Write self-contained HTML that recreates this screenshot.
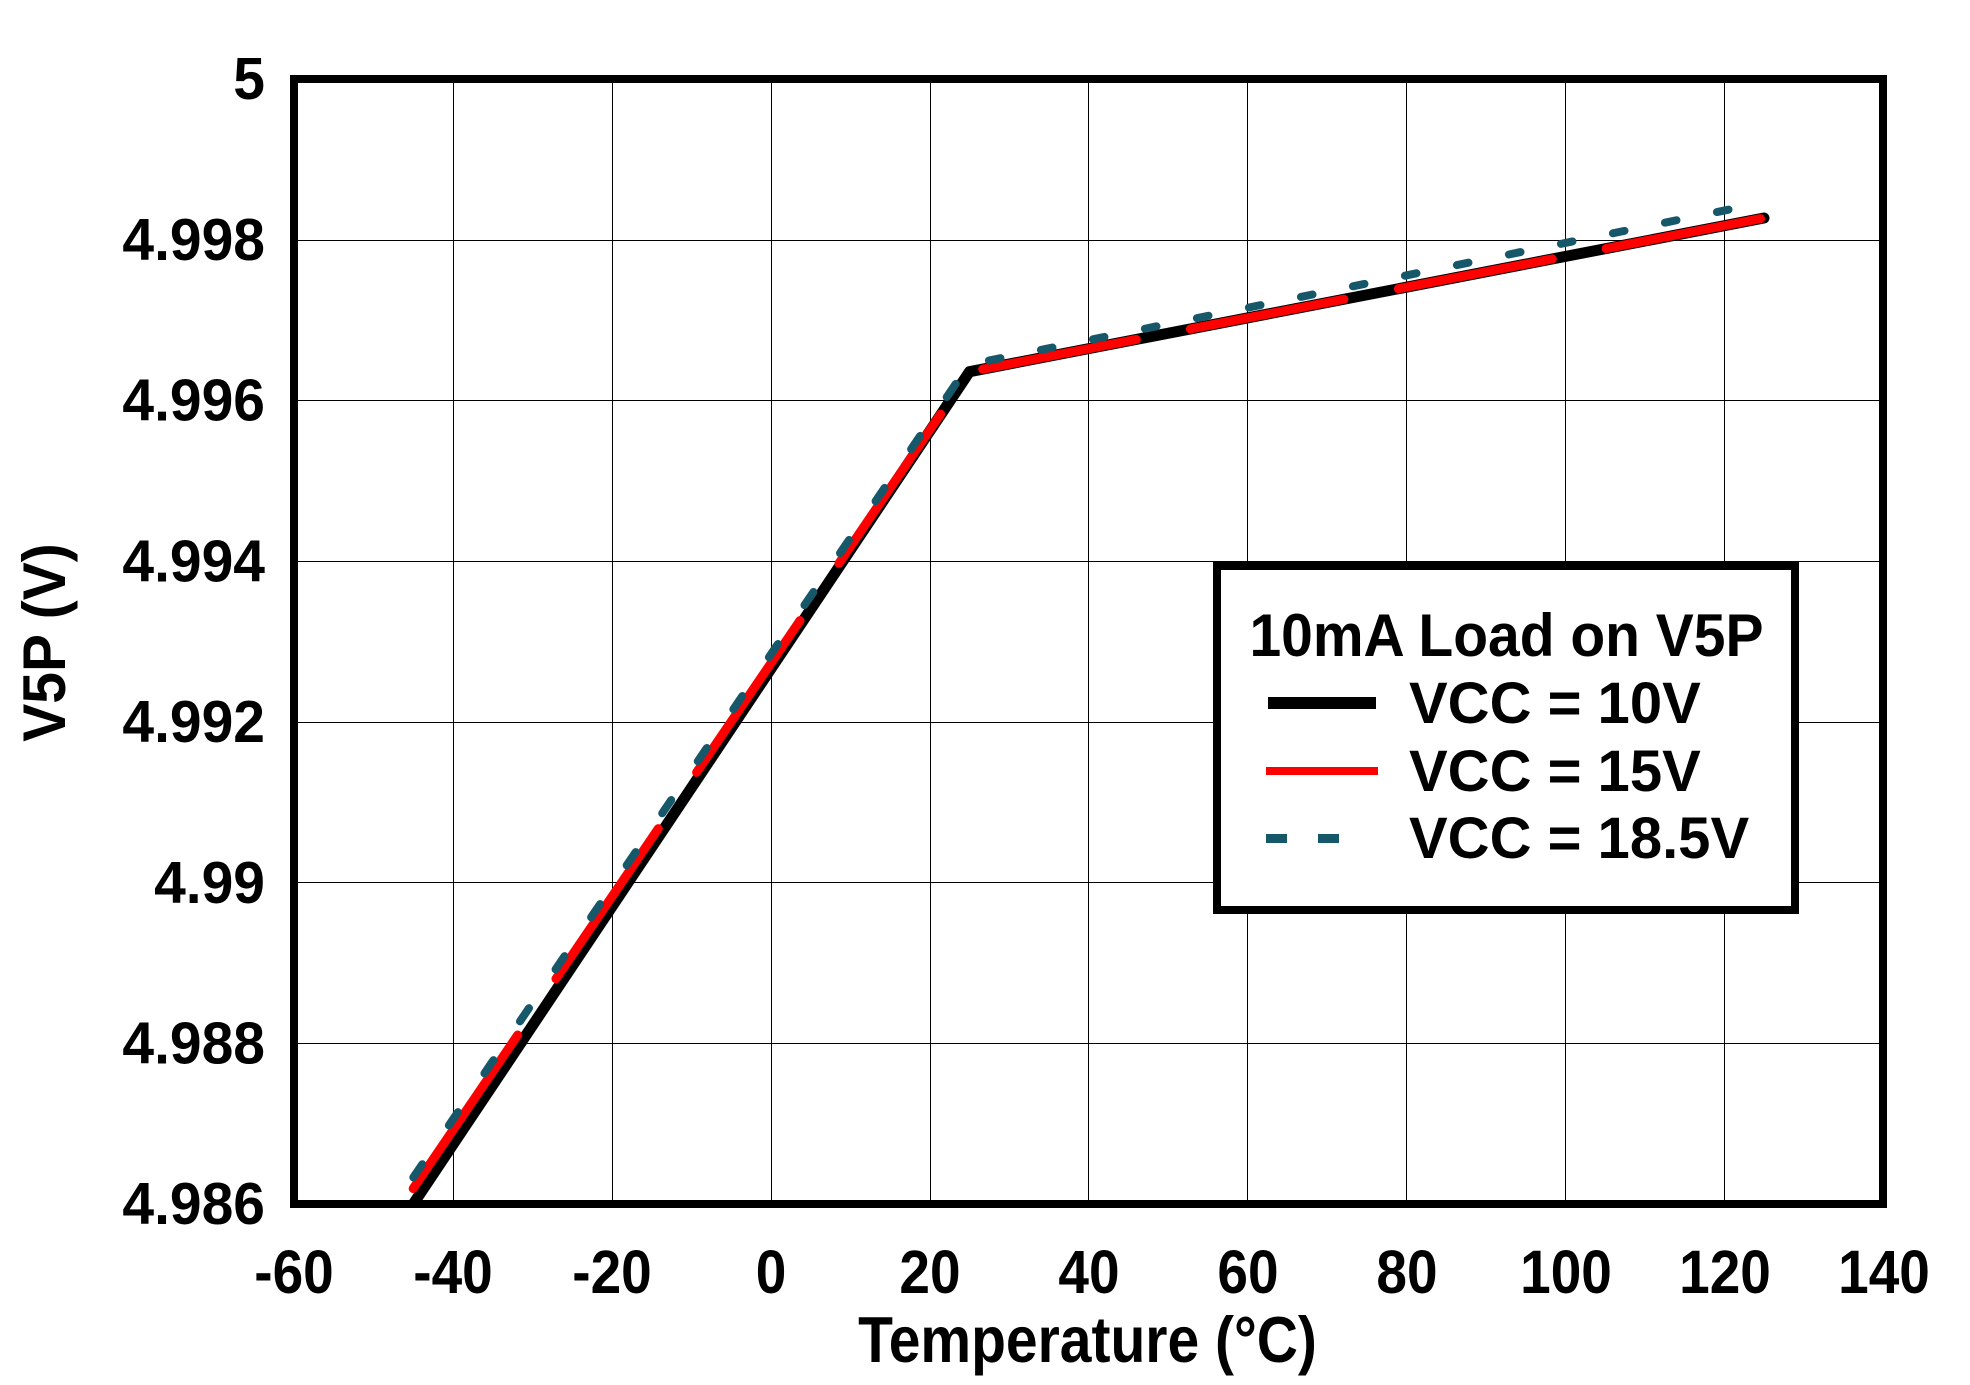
<!DOCTYPE html>
<html>
<head>
<meta charset="utf-8">
<style>
html,body{margin:0;padding:0;background:#fff;}
svg{display:block;}
text{font-family:"Liberation Sans",Arial,sans-serif;font-weight:bold;fill:#000;}
</style>
</head>
<body>
<svg width="1970" height="1385" viewBox="0 0 1970 1385" xmlns="http://www.w3.org/2000/svg">
<rect x="0" y="0" width="1970" height="1385" fill="#fff"/>
<defs>
<clipPath id="plot"><rect x="294" y="79" width="1589" height="1125"/></clipPath>
</defs>

<!-- gridlines -->
<g stroke="#000" stroke-width="1" shape-rendering="crispEdges">
<line x1="453.5" y1="79" x2="453.5" y2="1204"/>
<line x1="612.5" y1="79" x2="612.5" y2="1204"/>
<line x1="771.5" y1="79" x2="771.5" y2="1204"/>
<line x1="930.5" y1="79" x2="930.5" y2="1204"/>
<line x1="1088.5" y1="79" x2="1088.5" y2="1204"/>
<line x1="1247.5" y1="79" x2="1247.5" y2="1204"/>
<line x1="1406.5" y1="79" x2="1406.5" y2="1204"/>
<line x1="1565.5" y1="79" x2="1565.5" y2="1204"/>
<line x1="1724.5" y1="79" x2="1724.5" y2="1204"/>
<line x1="294" y1="240.5" x2="1883" y2="240.5"/>
<line x1="294" y1="400.5" x2="1883" y2="400.5"/>
<line x1="294" y1="561.5" x2="1883" y2="561.5"/>
<line x1="294" y1="722.5" x2="1883" y2="722.5"/>
<line x1="294" y1="882.5" x2="1883" y2="882.5"/>
<line x1="294" y1="1043.5" x2="1883" y2="1043.5"/>
</g>

<g clip-path="url(#plot)">
<!-- VCC = 10V black -->
<polyline points="413.2,1204 969.5,371.7 1764,218" fill="none" stroke="#000" stroke-width="11" stroke-linejoin="round" stroke-linecap="round"/>
<!-- VCC = 15V red (long dashes) -->
<g stroke="#ff0000" stroke-width="9" stroke-linecap="round" fill="none">
<line x1="413.2" y1="1188.5" x2="517.7" y2="1035.06"/>
<line x1="556.0" y1="978.83" x2="658.3" y2="828.62"/>
<line x1="696.6" y1="772.38" x2="800.0" y2="620.56"/>
<line x1="839.0" y1="563.30" x2="940.6" y2="414.12"/>
<line x1="982.7" y1="369.15" x2="1136.3" y2="339.42"/>
<line x1="1190.4" y1="328.96" x2="1343.9" y2="299.25"/>
<line x1="1398.4" y1="288.71" x2="1552.3" y2="258.93"/>
<line x1="1606.1" y1="248.52" x2="1760.5" y2="218.64"/>
</g>
<!-- VCC = 18.5V teal dashed -->
<g stroke="#16586a" stroke-width="8" stroke-linecap="round" fill="none">
<line x1="413.3" y1="1177.4" x2="422.3" y2="1164.2"/>
<line x1="448.86" y1="1125.38" x2="457.86" y2="1112.18"/>
<line x1="484.42" y1="1073.36" x2="493.42" y2="1060.16"/>
<line x1="519.98" y1="1021.34" x2="528.98" y2="1008.14"/>
<line x1="555.54" y1="969.32" x2="564.54" y2="956.12"/>
<line x1="591.1" y1="917.3" x2="600.1" y2="904.1"/>
<line x1="626.66" y1="865.28" x2="635.66" y2="852.08"/>
<line x1="662.22" y1="813.26" x2="671.22" y2="800.06"/>
<line x1="697.78" y1="761.24" x2="706.78" y2="748.04"/>
<line x1="733.34" y1="709.22" x2="742.34" y2="696.02"/>
<line x1="768.9" y1="657.2" x2="777.9" y2="644.0"/>
<line x1="804.46" y1="605.18" x2="813.46" y2="591.98"/>
<line x1="840.02" y1="553.16" x2="849.02" y2="539.96"/>
<line x1="875.58" y1="501.14" x2="884.58" y2="487.94"/>
<line x1="911.14" y1="449.12" x2="920.14" y2="435.92"/>
<line x1="946.7" y1="397.1" x2="955.7" y2="383.9"/>
<line x1="988.9" y1="360.56" x2="1000.5" y2="358.16"/>
<line x1="1040.9" y1="349.95" x2="1052.5" y2="347.55"/>
<line x1="1092.9" y1="339.34" x2="1104.5" y2="336.94"/>
<line x1="1144.9" y1="328.74" x2="1156.5" y2="326.34"/>
<line x1="1196.9" y1="318.13" x2="1208.5" y2="315.73"/>
<line x1="1248.9" y1="307.52" x2="1260.5" y2="305.12"/>
<line x1="1300.9" y1="296.91" x2="1312.5" y2="294.51"/>
<line x1="1352.9" y1="286.30" x2="1364.5" y2="283.90"/>
<line x1="1404.9" y1="275.70" x2="1416.5" y2="273.30"/>
<line x1="1456.9" y1="265.09" x2="1468.5" y2="262.69"/>
<line x1="1508.9" y1="254.48" x2="1520.5" y2="252.08"/>
<line x1="1560.9" y1="243.87" x2="1572.5" y2="241.47"/>
<line x1="1612.9" y1="233.26" x2="1624.5" y2="230.86"/>
<line x1="1664.9" y1="222.66" x2="1676.5" y2="220.26"/>
<line x1="1716.9" y1="212.05" x2="1728.5" y2="209.65"/>
</g>
</g>

<!-- plot frame -->
<rect x="294" y="79" width="1589" height="1125" fill="none" stroke="#000" stroke-width="8"/>

<!-- legend -->
<rect x="1217" y="566" width="578" height="344" fill="#fff" stroke="#000" stroke-width="8"/>
<text font-size="57" text-anchor="middle" transform="translate(1506.5,656) scale(1,1.06)">10mA Load on V5P</text>
<rect x="1268" y="697" width="108" height="12" fill="#000"/>
<rect x="1266" y="767" width="112" height="8" fill="#ff0000"/>
<rect x="1266" y="834" width="21" height="9" fill="#16586a"/>
<rect x="1318" y="834" width="21" height="9" fill="#16586a"/>
<text font-size="58" x="1409" y="723">VCC = 10V</text>
<text font-size="58" x="1409" y="791">VCC = 15V</text>
<text font-size="58" x="1409" y="858">VCC = 18.5V</text>

<!-- y tick labels -->
<g font-size="57" text-anchor="end">
<text transform="translate(265,99) scale(1,1.04)">5</text>
<text transform="translate(265,260) scale(1,1.04)">4.998</text>
<text transform="translate(265,420.5) scale(1,1.04)">4.996</text>
<text transform="translate(265,581.5) scale(1,1.04)">4.994</text>
<text transform="translate(265,742) scale(1,1.04)">4.992</text>
<text transform="translate(265,903) scale(1,1.04)">4.99</text>
<text transform="translate(265,1063.5) scale(1,1.04)">4.988</text>
<text transform="translate(265,1224) scale(1,1.04)">4.986</text>
</g>

<!-- x tick labels -->
<g font-size="55" text-anchor="middle">
<text transform="translate(294,1293) scale(1,1.12)">-60</text>
<text transform="translate(453,1293) scale(1,1.12)">-40</text>
<text transform="translate(612,1293) scale(1,1.12)">-20</text>
<text transform="translate(771,1293) scale(1,1.12)">0</text>
<text transform="translate(930,1293) scale(1,1.12)">20</text>
<text transform="translate(1089,1293) scale(1,1.12)">40</text>
<text transform="translate(1248,1293) scale(1,1.12)">60</text>
<text transform="translate(1407,1293) scale(1,1.12)">80</text>
<text transform="translate(1566,1293) scale(1,1.12)">100</text>
<text transform="translate(1725,1293) scale(1,1.12)">120</text>
<text transform="translate(1884,1293) scale(1,1.12)">140</text>
</g>

<!-- axis titles -->
<text font-size="57" text-anchor="middle" transform="translate(1087.5,1362) scale(1,1.14)">Temperature (°C)</text>
<text font-size="57" text-anchor="middle" transform="translate(65,642.5) rotate(-90) scale(1,1.057)">V5P (V)</text>
</svg>
</body>
</html>
